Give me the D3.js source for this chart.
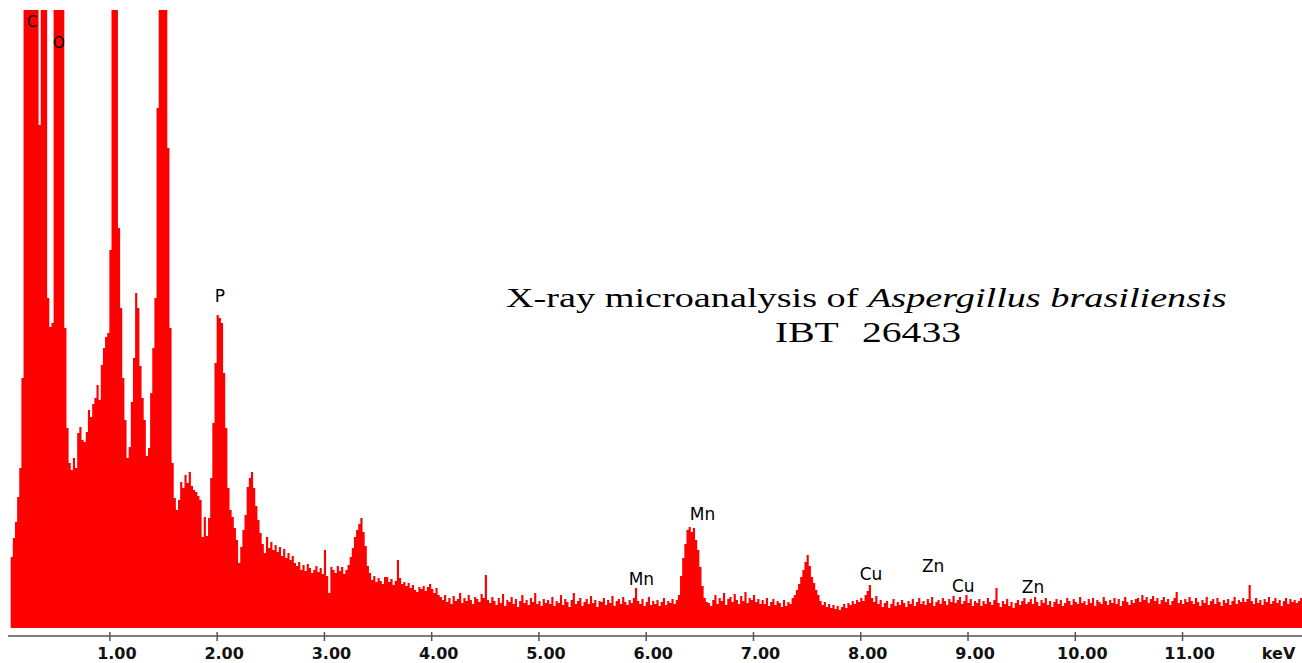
<!DOCTYPE html>
<html>
<head>
<meta charset="utf-8">
<script src="https://cdn.jsdelivr.net/npm/d3@7"></script>
<style>
  html, body { margin: 0; padding: 0; background: #fff; }
  svg { display: block; }
  .serif { font-family: "Liberation Serif", "Times New Roman", serif; }
  .sans { font-family: "DejaVu Sans", Verdana, sans-serif; }
</style>
</head>
<body>
<div id="chart"></div>
<script>
// spectrum channels (0.02 keV each, first channel starts at 0.08 keV)
const E_START = 0.08;
const CHANNEL_WIDTH = 0.02;

const counts = [
  71, 90, 106, 131, 160, 250, 900, 1100, 1400, 1500, 1450, 1200, 950, 503, 800, 900, 760, 330, 301, 305, 700, 1000, 1100, 950, 700,
  300, 200, 165, 158, 170, 160, 195, 201, 188, 186, 196, 218, 211, 224, 230, 243, 228, 263, 280, 291, 295, 378, 900, 1200, 1000,
  400, 320, 250, 208, 170, 181, 226, 270, 335, 320, 262, 230, 208, 172, 180, 235, 280, 330, 520, 900, 1300, 1400, 1100, 480, 300,
  165, 130, 118, 128, 146, 140, 153, 145, 156, 142, 138, 136, 132, 128, 91, 111, 92, 110, 150, 205, 265, 313, 310, 305, 255,
  200, 140, 118, 111, 100, 88, 65, 81, 98, 113, 141, 150, 156, 140, 122, 108, 95, 84, 75, 91, 80, 86, 78, 83, 76,
  81, 72, 79, 70, 75, 68, 72, 65, 62, 66, 58, 63, 57, 64, 60, 55, 58, 62, 56, 60, 54, 78, 52, 35, 61,
  58, 55, 62, 57, 61, 54, 58, 63, 71, 80, 91, 98, 104, 110, 96, 82, 62, 55, 48, 52, 46, 50, 47, 44, 51,
  51, 46, 49, 43, 47, 68, 50, 44, 46, 42, 45, 40, 43, 38, 36, 41, 39, 42, 37, 41, 44, 39, 35, 40, 33,
  31, 28, 33, 26, 30, 24, 32, 27, 29, 35, 25, 30, 27, 33, 28, 24, 31, 29, 26, 34, 30, 53, 28, 25, 31,
  27, 23, 30, 25, 34, 22, 28, 26, 31, 24, 29, 21, 27, 33, 25, 28, 23, 30, 26, 35, 24, 27, 22, 29, 25,
  28, 24, 31, 22, 27, 25, 33, 23, 29, 26, 21, 28, 35, 24, 27, 30, 22, 26, 29, 24, 32, 25, 28, 21, 27,
  26, 30, 23, 28, 25, 32, 22, 27, 29, 24, 31, 26, 23, 28, 25, 30, 40, 27, 24, 29, 22, 26, 31, 23, 27,
  24, 28, 22, 26, 30, 23, 27, 25, 29, 24, 28, 33, 52, 70, 84, 98, 101, 96, 100, 88, 78, 61, 42, 30, 26,
  25, 22, 28, 33, 24, 30, 27, 35, 23, 29, 31, 26, 34, 28, 24, 32, 27, 36, 25, 30, 28, 33, 26, 29, 24,
  28, 24, 30, 22, 26, 29, 23, 27, 25, 21, 28, 22, 26, 24, 30, 33, 38, 44, 51, 58, 66, 73, 62, 51, 45,
  38, 33, 27, 23, 26, 21, 24, 20, 23, 19, 22, 18, 21, 24, 20, 25, 23, 27, 24, 28, 26, 30, 27, 33, 37,
  43, 30, 26, 32, 24, 28, 21, 25, 27, 20, 24, 29, 22, 26, 23, 28, 25, 21, 27, 24, 29, 22, 26, 30, 24,
  27, 23, 29, 25, 31, 22, 26, 28, 24, 30, 27, 23, 29, 26, 32, 25, 28, 31, 24, 27, 33, 25, 29, 22, 27,
  25, 29, 22, 27, 24, 30, 26, 23, 28, 40, 25, 21, 27, 24, 29, 22, 26, 20, 25, 28, 23, 27, 30, 24, 26,
  29, 24, 31, 26, 22, 28, 25, 30, 23, 27, 21, 26, 29, 24, 28, 22, 25, 30, 27, 23, 29, 26, 24, 31, 25,
  27, 23, 29, 25, 30, 22, 28, 26, 24, 31, 27, 23, 28, 25, 30, 24, 29, 22, 27, 31, 26, 23, 28, 25, 29,
  30, 26, 33, 28, 31, 25, 29, 32, 27, 30, 24, 28, 31, 26, 29, 23, 27, 30, 36, 25, 28, 24, 29, 26, 31,
  27, 24, 30, 26, 22, 28, 25, 31, 23, 27, 29, 24, 30, 26, 22, 28, 25, 29, 23, 27, 31, 24, 28, 26, 30,
  26, 29, 43, 27, 24, 30, 25, 28, 23, 29, 26, 31, 24, 27, 30, 25, 28, 22, 27, 30, 24, 29, 26, 28, 25,
  27, 30, 26
];

const tickValues = [1, 2, 3, 4, 5, 6, 7, 8, 9, 10, 11];
const unitLabel = "keV";

// element markers: label, energy (keV), label baseline height (counts)
const peakNames = ["C", "O", "P", "Mn", "Mn", "Cu", "Zn", "Cu", "Zn"];
const peakEnergies = [0.28, 0.53, 2.03, 6.53, 5.96, 8.10, 8.68, 8.96, 9.61];
const peakLabelCounts = [601, 580, 326, 108, 43, 48, 56, 36, 35];

const titleMain = "X-ray microanalysis of ";
const titleSpecies = "Aspergillus brasiliensis";
const titleStrainCode = "IBT";
const titleStrainNumber = "26433";

const width = 1302;
const height = 663;
const baseY = 628;
const topY = 10;
const axisY = 636;

const x = d3.scaleLinear().domain([0, 12.12]).range([2.1, 1302.2]);
const y = d3.scaleLinear().domain([0, 618]).range([baseY, topY]).clamp(true);

const svg = d3.select("#chart").append("svg")
  .attr("width", width)
  .attr("height", height);

const points = counts.map((c, i) => ({ e: E_START + i * CHANNEL_WIDTH, c }));
points.push({ e: E_START + counts.length * CHANNEL_WIDTH, c: counts[counts.length - 1] });

const area = d3.area()
  .x((d) => x(d.e))
  .y0(y(0))
  .y1((d) => y(d.c))
  .curve(d3.curveStepAfter);

svg.append("path")
  .datum(points)
  .attr("fill", "#ff0000")
  .attr("d", area);

// x axis
const axis = svg.append("g")
  .attr("transform", `translate(0,${axisY})`)
  .call(d3.axisBottom(x)
    .tickValues(tickValues)
    .tickFormat(d3.format(".2f"))
    .tickSizeOuter(0));

axis.attr("font-family", null).attr("font-size", null);
axis.select(".domain").remove();
axis.insert("line", ":first-child")
  .attr("x1", 8)
  .attr("x2", width)
  .attr("stroke", "#7d7d7d")
  .attr("stroke-width", 2);

axis.selectAll(".tick line")
  .attr("y1", -4)
  .attr("y2", 5)
  .attr("stroke", "#555")
  .attr("stroke-width", 1.5);

axis.selectAll(".tick text")
  .attr("class", "sans")
  .attr("y", 23)
  .attr("dy", null)
  .attr("dx", 7)
  .attr("fill", "#111")
  .attr("font-weight", "bold")
  .attr("font-size", 16);

axis.append("text")
  .attr("class", "sans")
  .attr("x", x(11.9))
  .attr("y", 23)
  .attr("text-anchor", "middle")
  .attr("fill", "#111")
  .attr("font-weight", "bold")
  .attr("font-size", 16)
  .text(unitLabel);

// element labels
svg.append("g")
  .selectAll("text")
  .data(peakNames)
  .join("text")
  .attr("class", "sans")
  .attr("x", (d, i) => x(peakEnergies[i]))
  .attr("y", (d, i) => y(peakLabelCounts[i]))
  .attr("text-anchor", "middle")
  .attr("fill", "#000")
  .attr("font-size", (d, i) => (i < 2 ? 15 : 17))
  .text((d) => d);

// title, stretched horizontally like the source figure
const title = svg.append("text")
  .attr("class", "serif")
  .attr("font-size", 28)
  .attr("fill", "#000");
title.append("tspan").text(titleMain);
title.append("tspan").attr("font-style", "italic").text(titleSpecies);
const titleW = title.node().getComputedTextLength();
const sx = 721 / titleW;
title.attr("transform", `translate(506,307) scale(${sx},1)`);

svg.append("text")
  .attr("class", "serif")
  .attr("font-size", 29)
  .attr("fill", "#000")
  .attr("transform", `translate(775,342) scale(${sx},1)`)
  .text(titleStrainCode);

svg.append("text")
  .attr("class", "serif")
  .attr("font-size", 29)
  .attr("fill", "#000")
  .attr("transform", `translate(862,342) scale(${sx},1)`)
  .text(titleStrainNumber);
</script>
</body>
</html>
